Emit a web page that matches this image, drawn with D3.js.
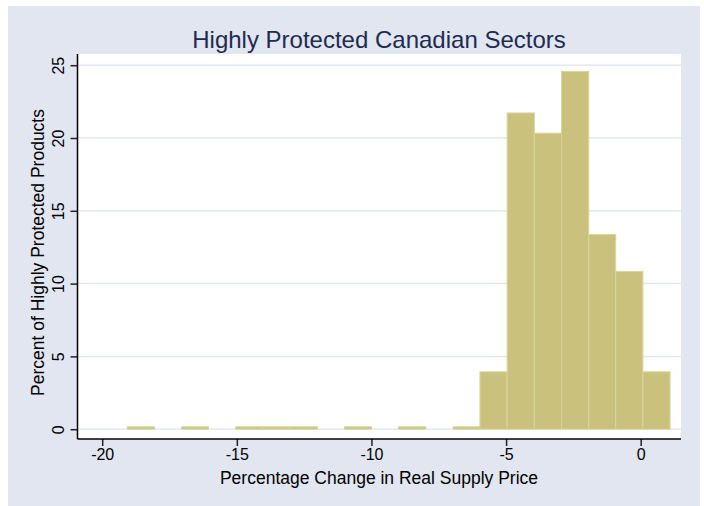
<!DOCTYPE html>
<html>
<head>
<meta charset="utf-8">
<script src="https://cdn.jsdelivr.net/npm/d3@7"></script>
<style>
  html, body { margin: 0; padding: 0; background: #ffffff; }
  svg { display: block; }
  text { font-family: "Liberation Sans", Arial, Helvetica, sans-serif; }
</style>
</head>
<body>
<svg id="chart" width="704" height="506"></svg>
<script>
// ---- data ----
const chartTitle = "Highly Protected Canadian Sectors";
const xAxisTitle = "Percentage Change in Real Supply Price";
const yAxisTitle = "Percent of Highly Protected Products";
// histogram bin edges (21 edges, 20 bins)
const binEdges = [-19.07, -18.06, -17.05, -16.05, -15.04, -14.03, -13.02, -12.01, -11.00, -10.00,
                  -8.99, -7.98, -6.97, -5.97, -4.96, -3.95, -2.94, -1.93, -0.93, 0.08, 1.09];
// percent of products in each bin
const binPercent = [0.163, 0, 0.163, 0, 0.163, 0.163, 0.163, 0, 0.163, 0,
                    0.163, 0, 0.163, 3.94, 21.72, 20.33, 24.57, 13.37, 10.83, 3.94];
const xTicks = [-20, -15, -10, -5, 0];
const yTicks = [0, 5, 10, 15, 20, 25];

// ---- layout ----
const svg = d3.select("#chart");
const plot = { left: 77.5, right: 681, top: 54, bottom: 439 };

svg.append("rect").attr("x", 8).attr("y", 6).attr("width", 692).attr("height", 500)
  .attr("fill", "#E1E6F0");

svg.append("rect")
  .attr("x", plot.left).attr("y", plot.top)
  .attr("width", plot.right - plot.left).attr("height", plot.bottom - plot.top)
  .attr("fill", "#ffffff");

const x = d3.scaleLinear().domain([-20, 0]).range([102.2, 640.7]);
const y = d3.scaleLinear().domain([0, 25]).range([429.2, 65.2]);

// gridlines
svg.append("g").selectAll("line").data(yTicks).join("line")
  .attr("x1", plot.left).attr("x2", plot.right)
  .attr("y1", d => y(d)).attr("y2", d => y(d))
  .attr("stroke", "#E3E8F1").attr("stroke-width", 1.5);

// bars
const bins = binPercent.map((v, i) => ({ x0: binEdges[i], x1: binEdges[i + 1], v }));
svg.append("g").selectAll("rect").data(bins.filter(b => b.v > 0)).join("rect")
  .attr("x", d => x(d.x0))
  .attr("width", d => x(d.x1) - x(d.x0))
  .attr("y", d => y(d.v))
  .attr("height", d => y(0) - y(d.v))
  .attr("fill", "#CAC27C")
  .attr("stroke", "#D9D49C")
  .attr("stroke-width", 1);

const fmt = d => String(d);

// axes
const xAxis = d3.axisBottom(x).tickValues(xTicks).tickSize(7).tickPadding(3).tickFormat(fmt);
const gx = svg.append("g").attr("transform", `translate(0,${plot.bottom})`).call(xAxis);
gx.select(".domain").remove();
gx.append("line").attr("x1", plot.left).attr("x2", plot.right).attr("y1", 0).attr("y2", 0)
  .attr("stroke", "#000").attr("stroke-width", 1.5);
gx.selectAll(".tick line").attr("stroke", "#222").attr("stroke-width", 1.5);
gx.selectAll(".tick text").attr("font-size", 16).attr("fill", "#000")
  .attr("font-family", "Liberation Sans, Arial, sans-serif");

const yAxis = d3.axisLeft(y).tickValues(yTicks).tickSize(7).tickPadding(0).tickFormat(fmt);
const gy = svg.append("g").attr("transform", `translate(${plot.left},0)`).call(yAxis);
gy.select(".domain").remove();
gy.append("line").attr("x1", 0).attr("x2", 0).attr("y1", plot.top).attr("y2", plot.bottom)
  .attr("stroke", "#000").attr("stroke-width", 1.5);
gy.selectAll(".tick line").attr("stroke", "#222").attr("stroke-width", 1.5);
gy.selectAll(".tick text")
  .attr("font-size", 16).attr("fill", "#000")
  .attr("font-family", "Liberation Sans, Arial, sans-serif")
  .attr("x", null).attr("dy", null)
  .attr("text-anchor", "middle")
  .attr("transform", "translate(-14,0) rotate(-90)");

// titles
svg.append("text").attr("x", 379).attr("y", 48).attr("text-anchor", "middle")
  .attr("font-size", 24).attr("fill", "#1E2C52").text(chartTitle);

svg.append("text").attr("x", 379).attr("y", 484).attr("text-anchor", "middle")
  .attr("font-size", 17.5).attr("fill", "#000").text(xAxisTitle);

svg.append("text").attr("transform", "translate(44,252.5) rotate(-90)").attr("text-anchor", "middle")
  .attr("font-size", 17.5).attr("fill", "#000").text(yAxisTitle);
</script>
</body>
</html>
